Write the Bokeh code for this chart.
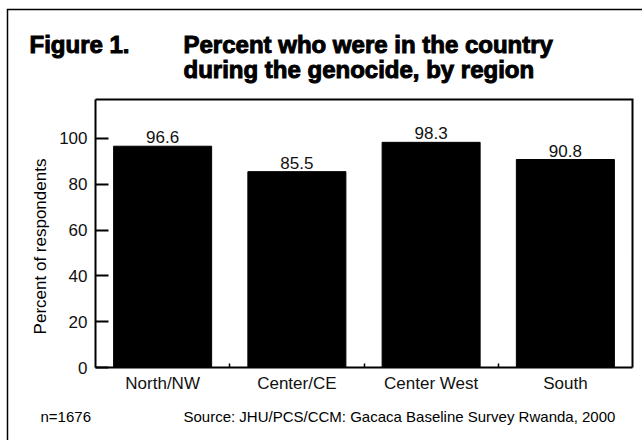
import math

from bokeh.core.properties import value
from bokeh.embed import file_html
from bokeh.models import (ColumnDataSource, FixedTicker, Label, LabelSet, LinearAxis,
                          Range1d)
from bokeh.plotting import figure
from bokeh.resources import INLINE

# --- data -------------------------------------------------------------
regions = ["North/NW", "Center/CE", "Center West", "South"]
pct_in_country = [96.6, 85.5, 98.3, 90.8]
y_ticks = [0, 20, 40, 60, 80, 100]
y_max = 117

# --- page geometry (pixels) ---------------------------------------------
FONT = "Liberation Sans"
DESCENT = 0.212                   # descender depth of the font, in em
W, H = 642, 440
BOX_L, BOX_R, BOX_T, BOX_B = 95, 632, 99, 367   # the chart box

n = len(regions)
kx = (BOX_R - BOX_L) / n          # pixels per category
ky = (BOX_B - BOX_T) / y_max      # pixels per percent

centers = [i + 0.5 for i in range(n)]
source = ColumnDataSource(dict(
    x=centers,
    pct=pct_in_country,
    label=[f"{v:.1f}" for v in pct_in_country],
))

# the frame fills the whole canvas; the chart box sits inside it
p = figure(
    width=W, height=H,
    x_range=Range1d(-BOX_L / kx, (W - BOX_L) / kx),
    y_range=Range1d(-(H - BOX_B) / ky, BOX_B / ky),
    x_axis_location=None, y_axis_location=None,
    output_backend="svg", toolbar_location=None,
    min_border=0, min_border_left=0, min_border_right=0,
    min_border_top=0, min_border_bottom=0,
)
# pixel ranges for page decorations and free text
p.extra_x_ranges = {"px": Range1d(0, W)}
p.extra_y_ranges = {"px": Range1d(H, 0)}

p.background_fill_color = "white"
p.border_fill_color = "white"
p.outline_line_color = None
p.grid.visible = False

# bars and value labels
p.vbar(x="x", top="pct", width=0.73, source=source,
       fill_color="black", line_color="black")
p.add_layout(LabelSet(x="x", y="pct", text="label", source=source,
                      y_offset=3, text_align="center", text_baseline="alphabetic",
                      text_font=value(FONT), text_font_size="17px",
                      text_color="#111111"))

# top and right sides of the chart box
p.line(x=[0, n, n], y=[y_max, y_max, 0], line_color="black", line_width=2,
       line_join="miter")

# y axis pinned to the left edge of the box
yax = LinearAxis(fixed_location=0, bounds=(0, y_max),
                 ticker=FixedTicker(ticks=y_ticks, minor_ticks=[]))
# x axis pinned to the bottom of the box; short marks between regions
xax = LinearAxis(fixed_location=0, bounds=(0, n),
                 ticker=FixedTicker(ticks=centers, minor_ticks=list(range(1, n))))
xax.major_label_overrides = {c: r for c, r in zip(centers, regions)}

for ax in (xax, yax):
    ax.axis_line_color = "black"
    ax.axis_line_width = 2
    ax.major_label_text_font = FONT
    ax.major_label_text_font_size = "17px"
    ax.major_label_text_color = "#111111"

yax.major_tick_in = 13
yax.major_tick_out = 0
yax.major_tick_line_width = 2
yax.major_tick_line_color = "black"
yax.minor_tick_line_color = None
yax.major_label_standoff = 8

xax.major_tick_line_color = None
xax.major_tick_in = 0
xax.major_tick_out = 0
xax.minor_tick_in = 4
xax.minor_tick_out = 0
xax.minor_tick_line_color = "black"
xax.minor_tick_line_width = 1.5
xax.major_label_standoff = 6

p.add_layout(yax, "left")
p.add_layout(xax, "below")

# open border of the figure panel (left and top edges)
p.line(x=[7, 7, W + 10], y=[H + 10, 9, 9], x_range_name="px", y_range_name="px",
       line_color="black", line_width=1.5, line_join="miter")


def add_text(text, x, baseline, size_px, bold=False, **kw):
    """free text placed by its baseline (anchored at the descender edge)"""
    p.add_layout(Label(x=x, y=baseline + DESCENT * size_px,
                       x_range_name="px", y_range_name="px",
                       text=text, text_font=FONT, text_font_size=f"{size_px}px",
                       text_font_style="bold" if bold else "normal",
                       text_baseline="bottom", text_color="black", **kw))


# heavy title: bold face with a thin outline of the same colour
heavy = dict(bold=True, text_outline_color="black")
add_text("Figure 1.", 29, 52, 24, **heavy)
add_text("Percent who were in the country", 183, 52, 24, **heavy)
add_text("during the genocide, by region", 183, 77, 24, **heavy)
add_text("n=1676", 40, 421, 15)
add_text("Source: JHU/PCS/CCM: Gacaca Baseline Survey Rwanda, 2000", 183, 421, 15)

p.add_layout(Label(x=40, y=246, x_range_name="px", y_range_name="px",
                   text="Percent of respondents", text_font=FONT,
                   text_font_size="17px", text_color="black",
                   text_align="center", text_baseline="middle", angle=math.pi / 2))

open("out.html", "w").write(file_html(p, INLINE))
